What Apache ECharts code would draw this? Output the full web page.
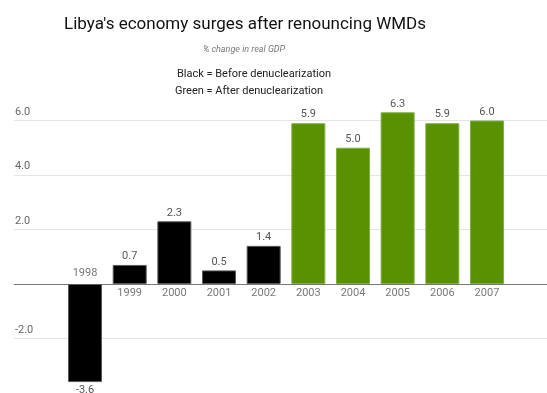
<!DOCTYPE html>
<html>
<head>
<meta charset="utf-8">
<script src="https://cdn.jsdelivr.net/npm/echarts@6/dist/echarts.min.js"></script>
<style>
  html, body { margin: 0; padding: 0; background: #fff; }
  #chart { width: 547px; height: 393px; }
</style>
</head>
<body>
<div id="chart"></div>
<script>
// % change in real GDP, Libya
const years = ['1998', '1999', '2000', '2001', '2002', '2003', '2004', '2005', '2006', '2007']
const growth = [-3.6, 0.7, 2.3, 0.5, 1.4, 5.9, 5.0, 6.3, 5.9, 6.0]
const firstYearAfter = '2003'
const yTicks = [-4, -2, 0, 2, 4, 6, 8]

const BLACK = '#000000'
const GREEN = '#5a9100'
const FONT = 'Roboto, "Noto Sans", sans-serif'

const afterIdx = years.indexOf(firstYearAfter)

const barData = growth.map(function (v, i) {
    const after = i >= afterIdx
    return {
        value: v,
        itemStyle: {
            color: after ? GREEN : BLACK,
            borderColor: after ? '#7fae45' : '#5a5a5a',
            borderWidth: 1
        }
    }
})

const axisNames = growth.map(function (v) {
    return {
        value: 0,
        label: { position: v < 0 ? 'top' : 'bottom', distance: v < 0 ? 5 : 4 }
    }
})

// ticks without a printed label / visible gridline
const hiddenTicks = [-4, 0, 8]

let myChart = echarts.init(document.getElementById('chart'))

myChart.setOption({
    animation: false,
    backgroundColor: '#ffffff',
    title: [
        {
            text: "Libya's economy surges after renouncing WMDs",
            left: 240, top: 11, textAlign: 'center',
            textStyle: { fontFamily: FONT, fontSize: 17, fontWeight: 'normal', color: '#111' }
        },
        {
            text: '% change in real GDP',
            left: 239, top: 40, textAlign: 'center',
            textStyle: { fontFamily: FONT, fontSize: 9, fontStyle: 'italic', fontWeight: 'normal', color: '#777' }
        },
        {
            text: 'Black = Before denuclearization',
            left: 249, top: 64, textAlign: 'center',
            textStyle: { fontFamily: FONT, fontSize: 11, fontWeight: 'normal', color: '#222' }
        },
        {
            text: 'Green = After denuclearization',
            left: 244, top: 81, textAlign: 'center',
            textStyle: { fontFamily: FONT, fontSize: 11, fontWeight: 'normal', color: '#222' }
        }
    ],
    grid: [
        { left: 14, right: 0, top: 66, bottom: 0 },
        { left: 62.7, right: 37.7, top: 66, bottom: 0 }
    ],
    xAxis: [
        {
            gridIndex: 0, type: 'value', min: 0, max: 1,
            axisLine: { show: true, onZero: true, lineStyle: { color: '#777', width: 1 } },
            axisTick: { show: false }, axisLabel: { show: false }, splitLine: { show: false }
        },
        {
            gridIndex: 1, type: 'category', data: years,
            axisLine: { show: false }, axisTick: { show: false }, axisLabel: { show: false }
        }
    ],
    yAxis: [
        {
            gridIndex: 0, type: 'value', min: -4, max: 8, interval: 2,
            axisLine: { show: false }, axisTick: { show: false },
            axisLabel: {
                inside: true, margin: 1, verticalAlign: 'bottom', padding: [0, 0, 3, 0],
                fontFamily: FONT, fontSize: 11, color: '#666',
                formatter: function (v) { return hiddenTicks.indexOf(v) >= 0 ? '' : v.toFixed(1) }
            },
            splitLine: {
                lineStyle: {
                    color: yTicks.map(function (t) { return hiddenTicks.indexOf(t) >= 0 ? 'rgba(0,0,0,0)' : '#e4e4e4' }),
                    width: 1
                }
            }
        },
        {
            gridIndex: 1, type: 'value', min: -4, max: 8, interval: 2, show: false
        }
    ],
    series: [
        {
            type: 'bar', xAxisIndex: 1, yAxisIndex: 1,
            data: barData, barWidth: 34,
            label: {
                show: true, position: 'outside', distance: 3,
                fontFamily: FONT, fontSize: 11, color: '#555',
                formatter: function (p) { return p.value.toFixed(1) }
            }
        },
        {
            type: 'scatter', xAxisIndex: 1, yAxisIndex: 1,
            data: axisNames, symbolSize: 0, silent: true,
            label: {
                show: true, fontFamily: FONT, fontSize: 11, color: '#555',
                formatter: function (p) { return p.name }
            }
        }
    ]
})
</script>
</body>
</html>
